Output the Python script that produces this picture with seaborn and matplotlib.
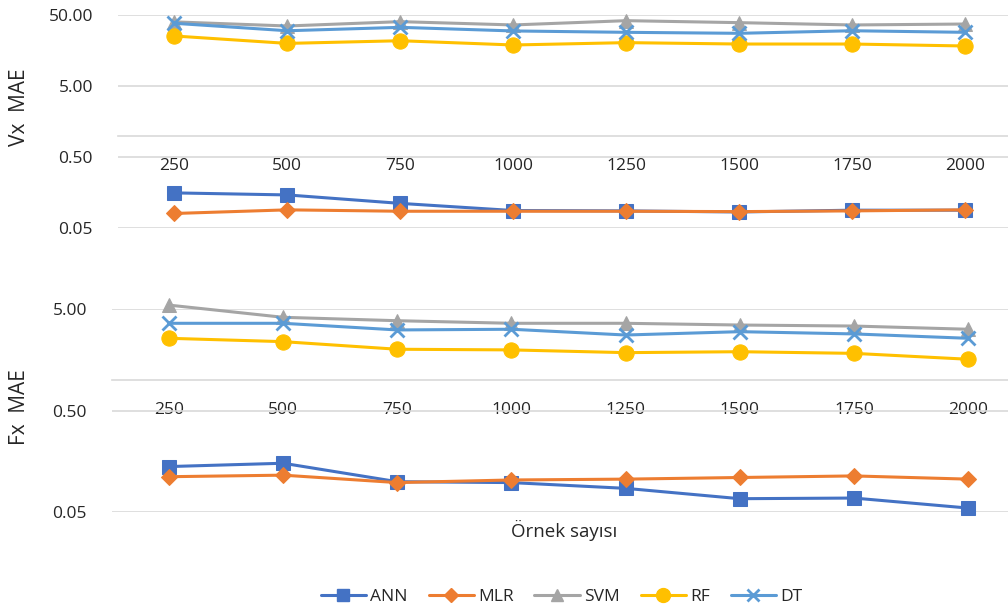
import pandas as pd
import matplotlib.pyplot as plt
import matplotlib.ticker as mticker
import seaborn as sns

# sample counts (x axis categories)
samples = ['250', '500', '750', '1000', '1250', '1500', '1750', '2000']
models = ['ANN', 'MLR', 'SVM', 'RF', 'DT']

# Vx MAE values
vx_ann = [0.156, 0.146, 0.111, 0.088, 0.087, 0.084, 0.089, 0.089]
vx_mlr = [0.080, 0.090, 0.086, 0.086, 0.086, 0.085, 0.087, 0.090]
vx_svm = [40.0, 35.0, 40.3, 36.2, 41.6, 39.0, 36.2, 37.3]
vx_rf = [25.3, 19.9, 21.7, 18.9, 20.4, 19.5, 19.5, 18.3]
vx_dt = [38.2, 30.0, 33.5, 29.8, 28.5, 27.6, 30.0, 28.5]

# Fx MAE values
fx_ann = [0.141, 0.152, 0.100, 0.098, 0.086, 0.068, 0.069, 0.055]
fx_mlr = [0.112, 0.116, 0.098, 0.104, 0.106, 0.110, 0.114, 0.106]
fx_svm = [5.5, 4.17, 3.86, 3.64, 3.64, 3.50, 3.42, 3.18]
fx_rf = [2.59, 2.40, 2.02, 1.99, 1.87, 1.91, 1.84, 1.61]
fx_dt = [3.64, 3.64, 3.13, 3.18, 2.79, 3.01, 2.86, 2.59]

colors = {'ANN': '#4472C4', 'MLR': '#ED7D31', 'SVM': '#A5A5A5', 'RF': '#FFC000', 'DT': '#5B9BD5'}
markers = {'ANN': 's', 'MLR': 'D', 'SVM': '^', 'RF': 'o', 'DT': 'x'}
sizes = {'ANN': 10, 'MLR': 8, 'SVM': 10, 'RF': 11, 'DT': 10}


def to_long(series):
    rows = []
    for name, vals in zip(models, series):
        for s, v in zip(samples, vals):
            rows.append({'samples': s, 'model': name, 'mae': v})
    return pd.DataFrame(rows)


vx = to_long([vx_ann, vx_mlr, vx_svm, vx_rf, vx_dt])
fx = to_long([fx_ann, fx_mlr, fx_svm, fx_rf, fx_dt])

sns.set_style('white')
plt.rcParams['font.family'] = ['Open Sans', 'DejaVu Sans']

fig = plt.figure(figsize=(10.08, 6.12), dpi=100)
ax1 = fig.add_axes([0.117, 0.6275, 0.883, 0.348])
ax2 = fig.add_axes([0.111, 0.163, 0.889, 0.3316])


def draw(ax, df, ymin, ymax, ticks, xmax):
    sns.lineplot(data=df, x='samples', y='mae', hue='model', hue_order=models,
                 palette=colors, ax=ax, linewidth=2.2, legend=False, sort=False)
    for line, m in zip(ax.get_lines(), models):
        line.set_marker(markers[m])
        line.set_markersize(sizes[m])
        line.set_markeredgecolor(colors[m])
        line.set_markerfacecolor(colors[m])
        line.set_clip_on(False)
        if m == 'DT':
            line.set_markeredgewidth(2.0)
    ax.set_yscale('log')
    ax.set_ylim(ymin, ymax)
    ax.set_xlim(-0.5, xmax)
    ax.yaxis.set_major_locator(mticker.FixedLocator(ticks))
    ax.yaxis.set_minor_locator(mticker.NullLocator())
    ax.yaxis.set_major_formatter(mticker.FormatStrFormatter('%.2f'))
    ax.grid(axis='y', color='#D9D9D9', linewidth=1.2)
    ax.set_axisbelow(True)
    for sp in ['top', 'right', 'left']:
        ax.spines[sp].set_visible(False)
    ax.spines['bottom'].set_position(('data', 1))
    ax.spines['bottom'].set_color('#D9D9D9')
    ax.spines['bottom'].set_linewidth(1.2)
    ax.tick_params(axis='x', length=0, pad=16, labelsize=12.5, labelcolor='#262626')
    ax.tick_params(axis='y', length=0, pad=18, labelsize=12.5, labelcolor='#262626')
    ax.set_xlabel('')
    ax.set_ylabel('')


draw(ax1, vx, 0.05, 50, [0.05, 0.5, 5, 50], 7.38)
draw(ax2, fx, 0.05, 5, [0.05, 0.5, 5], 7.35)

fig.text(0.019, 0.825, 'Vx  MAE', rotation=90, ha='center', va='center', fontsize=15, color='#262626')
fig.text(0.019, 0.335, 'Fx  MAE', rotation=90, ha='center', va='center', fontsize=15, color='#262626')
fig.text(0.56, 0.134, 'Örnek sayısı', ha='center', va='center', fontsize=13.5, color='#262626')

handles = []
for m in models:
    h, = ax1.plot([], [], color=colors[m], marker=markers[m], markersize=sizes[m] - 1,
                  linewidth=2.2, markeredgewidth=2.0 if m == 'DT' else 1.0)
    handles.append(h)
fig.legend(handles, models, loc='center', bbox_to_anchor=(0.557, 0.025), ncol=5,
           frameon=False, fontsize=12.5, handlelength=2.6, columnspacing=1.2,
           handletextpad=0.25)

fig.savefig('out.png', dpi=100)
